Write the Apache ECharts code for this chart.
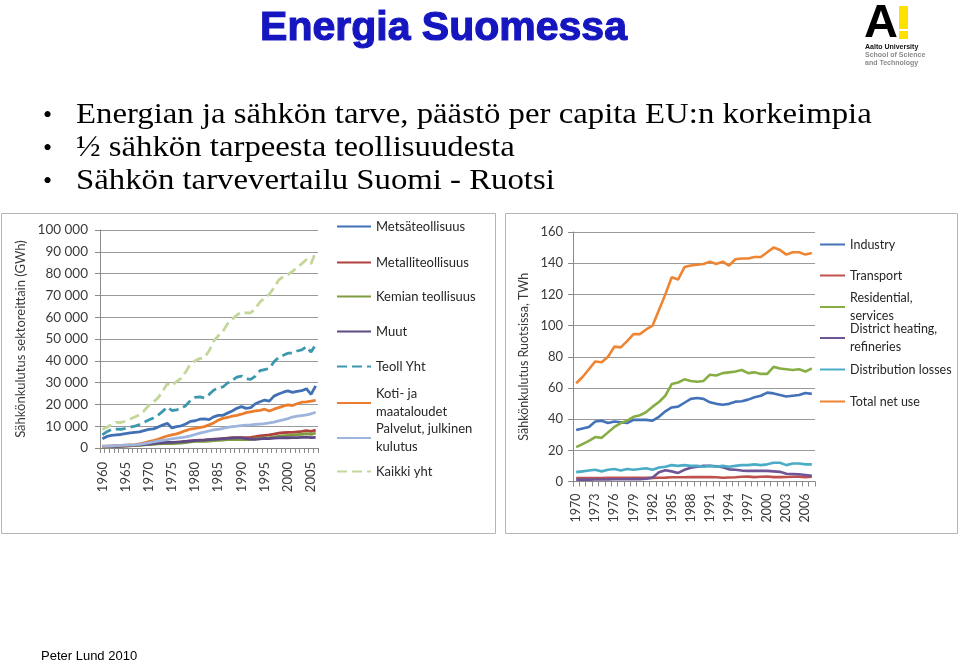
<!DOCTYPE html>
<html><head><meta charset="utf-8">
<script src="https://cdn.jsdelivr.net/npm/echarts@6/dist/echarts.min.js"></script>
<style>html,body{margin:0;padding:0;background:#fff}#c{width:960px;height:663px}</style>
</head><body><div id="c"></div>
<script>
// ---------- Finland (left chart), GWh ----------
const yearsFi = ['1960','1961','1962','1963','1964','1965','1966','1967','1968','1969',
  '1970','1971','1972','1973','1974','1975','1976','1977','1978','1979',
  '1980','1981','1982','1983','1984','1985','1986','1987','1988','1989',
  '1990','1991','1992','1993','1994','1995','1996','1997','1998','1999',
  '2000','2001','2002','2003','2004','2005','2006'];
const fiMetsa = [4200,5300,5800,6000,6200,6600,6900,7200,7400,8000,
  8500,8800,9600,10500,11300,9200,9800,10200,11000,12200,
  12500,13200,13400,13000,14300,15000,15000,16000,17000,18200,
  19000,18200,18500,20300,21200,22000,21500,23800,24800,25600,
  26200,25500,26000,26300,27200,24600,28500];
const fiMetalli = [500,600,700,800,900,1000,1100,1200,1400,1600,
  1800,2000,2200,2400,2500,2400,2600,2800,3000,3300,
  3500,3600,3600,3800,4100,4200,4300,4500,4700,4800,
  4800,4700,4900,5200,5600,5800,6000,6400,6800,7000,
  7200,7200,7400,7600,8000,7600,8200];
const fiKemia = [400,500,600,700,800,900,1000,1100,1200,1400,
  1600,1700,1900,2000,2100,2000,2100,2300,2500,2800,
  3000,3100,3000,3200,3400,3500,3600,3800,3900,4000,
  3900,3800,3900,4200,4500,4600,4700,5000,5400,5600,
  5800,5900,6100,6300,6600,6200,6900];
const fiMuut = [500,600,700,800,900,1000,1100,1200,1400,1600,
  1800,2000,2200,2400,2600,2600,2700,2800,3000,3200,
  3400,3500,3600,3800,4000,4100,4300,4400,4500,4600,
  4600,4300,4100,4000,4200,4400,4300,4500,4600,4700,
  4700,4800,4800,4900,5000,4800,4900];
const fiTeollYht = [6000,7500,8500,8700,8600,9000,9600,10000,10800,11800,
  12800,13800,15000,16800,18800,17200,17500,18000,19500,21800,
  23200,23500,23000,24500,26500,27500,28000,29800,31000,32500,
  33000,31800,31500,33000,35500,36000,36500,39500,41500,42500,
  43500,43500,44500,45000,46500,44000,47500];
const fiKoti = [800,900,1000,1100,1200,1300,1400,1500,1900,2400,
  2900,3400,4000,4800,5500,6000,6500,7200,8000,8700,
  9000,9400,9800,10600,11500,12800,13600,14000,14600,15000,
  15500,16200,16600,17000,17300,17800,17000,17800,18500,19200,
  19800,19500,20300,21000,21200,21500,21800];
const fiPalvelut = [800,900,1000,1100,1200,1300,1400,1500,1700,2000,
  2400,2800,3200,3500,3800,4200,4500,4800,5100,5600,
  6200,6800,7300,7800,8300,8600,9000,9500,9800,10000,
  10300,10500,10600,10800,11000,11200,11500,11900,12400,12900,
  13500,14200,14600,14900,15200,15700,16400];
const fiKaikki = [8500,9500,10800,11800,11700,12300,13300,14200,15200,17000,
  19500,21000,23000,26000,29500,28500,30500,32000,35000,38500,
  40000,41000,41500,44500,49000,51500,53500,57000,59000,61000,
  62300,62000,62000,64000,67000,68800,70500,73500,77000,78500,
  79500,81000,83000,84500,86500,84500,90000];
const fiNames = ['Metsäteollisuus','Metalliteollisuus','Kemian teollisuus','Muut','Teoll Yht',
  'Koti- ja maataloudet','Palvelut, julkinen kulutus','Kaikki yht'];
const fiYTicks = [0,10000,20000,30000,40000,50000,60000,70000,80000,90000,100000];

// ---------- Sweden (right chart), TWh ----------
const yearsSe = ['1970','1971','1972','1973','1974','1975','1976','1977','1978','1979',
  '1980','1981','1982','1983','1984','1985','1986','1987','1988','1989',
  '1990','1991','1992','1993','1994','1995','1996','1997','1998','1999',
  '2000','2001','2002','2003','2004','2005','2006','2007'];
const seIndustry = [33,34,35,38.5,39,37.5,38.5,38,37.5,39.5,
  39.5,39.5,39,41.5,45,47.5,48,50.5,53,53.5,
  53,50.8,49.8,49.2,49.8,51.2,51.5,52.5,54,55,
  57,56.5,55.5,54.5,55,55.5,56.8,56.2];
const seTransport = [2.2,2.2,2.2,2.2,2.2,2.3,2.3,2.3,2.3,2.3,
  2.3,2.3,2.3,2.4,2.5,2.7,2.7,2.7,2.8,2.8,
  2.8,2.8,2.7,2.4,2.6,2.7,3.0,3.1,2.8,3.0,
  3.2,2.8,2.8,2.9,3.0,3.0,2.8,3.0];
const seResidential = [22,24,26,28.5,28,31.5,35,37.5,39,41.5,
  42.5,44.5,48,51,55,62.5,63.5,65.5,64.5,64,
  64.5,68.5,68,69.5,70,70.5,71.5,69.5,70,69,
  69,73.5,72.5,72,71.5,72,70.5,72.5];
const seDistrict = [1.2,1.2,1.2,1.3,1.3,1.3,1.4,1.4,1.4,1.5,
  1.5,1.8,2.5,6,7.2,6.5,5.5,7.5,8.8,9.5,
  10,10,9.8,9.2,7.8,7.5,7,6.8,6.8,6.8,
  6.8,6.5,6.2,5,4.8,4.6,4.2,3.6];
const seLosses = [6,6.5,7,7.5,6.5,7.5,8,7,8,7.5,
  8,8.5,7.5,9,9.5,10.5,10,10.5,10,10,
  9.5,10,9.5,10,9.5,10,10.5,10.5,11,10.5,
  11,12,12,10.5,11.5,11.5,11,11];
const seTotal = [63,67,72,77,76.5,80,86.5,86,90,94.5,
  94.5,97.5,100,110,120,131,129.5,137.5,138.5,139,
  139.5,141,139.5,141,138.5,142.5,143,143,144,144,
  147,150,148.5,145.5,147,147,145.5,146.5];
const seNames = ['Industry','Transport','Residential, services','District heating, refineries',
  'Distribution losses','Total net use'];

// ---------- texts ----------
const titleText = 'Energia Suomessa';
const bullets = ['Energian ja sähkön tarve, päästö per capita EU:n korkeimpia',
  '½ sähkön tarpeesta teollisuudesta',
  'Sähkön tarvevertailu Suomi - Ruotsi'];
const footerText = 'Peter Lund 2010';

// ---------- styling / layout ----------
const FONT = 'Lato';
const LBL = '#3a3a3a';
const fiColors = ['#4170B5','#B0403D','#7E9D3F','#5F4A86','#3B98AE','#EA7D2E','#9DB4DC','#C4D79B'];
const fiDashed = [false,false,false,false,true,false,false,true];
const seColors = ['#4472B8','#C0504D','#86AE44','#6F5596','#4BACC6','#EE8533'];
const wrapMap = {
  'Koti- ja maataloudet':'Koti- ja\nmaataloudet',
  'Palvelut, julkinen kulutus':'Palvelut, julkinen\nkulutus',
  'Residential, services':'Residential,\nservices',
  'District heating, refineries':'District heating,\nrefineries'
};
const fiLegendY = [227,263,297,332,367,403,438,472];
const seLegendY = [245,276,307,338,370,402];

function fmtThousands(v){ return String(v).replace(/\B(?=(\d{3})+(?!\d))/g,' '); }

function makeLegend(name, cy, left, iw, fs){
  const wrapped = wrapMap[name];
  const lg = {
    data:[name], orient:'vertical', left:left, padding:0, itemGap:0,
    itemWidth:iw, itemHeight:14, selectedMode:false,
    itemStyle:{color:'rgba(0,0,0,0)', borderColor:'rgba(0,0,0,0)', borderWidth:0},
    formatter: n => wrapMap[n] || n,
    textStyle:{fontFamily:FONT, fontSize:fs, color:'#262626'}
  };
  if (wrapped){
    lg.textStyle.lineHeight = 18;
    lg.textStyle.padding = [18,0,0,0];
    lg.top = cy - 27;
  } else {
    lg.top = cy - 7;
  }
  return lg;
}

const legends = [];
fiNames.forEach((n,i)=>legends.push(makeLegend(n, fiLegendY[i], 336, 34, 13)));
seNames.forEach((n,i)=>legends.push(makeLegend(n, seLegendY[i], 819, 25, 12.5)));

const fiData = [fiMetsa,fiMetalli,fiKemia,fiMuut,fiTeollYht,fiKoti,fiPalvelut,fiKaikki];
const seData = [seIndustry,seTransport,seResidential,seDistrict,seLosses,seTotal];

const series = [];
fiNames.forEach((n,i)=>series.push({
  name:n, type:'line', xAxisIndex:0, yAxisIndex:0, data:fiData[i], symbol:'none',
  lineStyle:{color:fiColors[i], width:2.8, type: fiDashed[i] ? [10,5] : 'solid'},
  itemStyle:{color:fiColors[i]}
}));
seNames.forEach((n,i)=>series.push({
  name:n, type:'line', xAxisIndex:1, yAxisIndex:1, data:seData[i], symbol:'none',
  lineStyle:{color:seColors[i], width:2.6},
  itemStyle:{color:seColors[i]}
}));

const axisLineStyle = {lineStyle:{color:'#8a8a8a', width:1}};
const splitLineStyle = {show:true, lineStyle:{color:'#9a9a9a', width:1}};

function txt(x, y, text, st, extra){
  return Object.assign({type:'text', x:x, y:y, style:Object.assign({text:text,
    textAlign:'left', textVerticalAlign:'middle', align:'left', verticalAlign:'middle'}, st)}, extra || {});
}

const graphics = [
  {type:'rect', shape:{x:1.5,y:213.5,width:494,height:320}, style:{fill:'none',stroke:'#b4b4b4',lineWidth:1}, z:-1},
  {type:'rect', shape:{x:505.5,y:213.5,width:452,height:320}, style:{fill:'none',stroke:'#b4b4b4',lineWidth:1}, z:-1},
  txt(443.5, 29, titleText, {fontFamily:'Liberation Sans', fontWeight:'bold', fontSize:41, fill:'#1616C0',
     stroke:'#1616C0', lineWidth:1.2, textAlign:'center', align:'center'}),
  txt(41, 656, footerText, {fontFamily:'Liberation Sans', fontSize:13, fill:'#000'}),
  // logo
  txt(864, 24, 'A', {fontFamily:'Liberation Sans', fontWeight:'bold', fontSize:47, fill:'#000'}),
  {type:'rect', shape:{x:899, y:6, width:9, height:23}, style:{fill:'#FFE100'}},
  {type:'rect', shape:{x:899, y:31, width:9, height:8}, style:{fill:'#FFE100'}},
  txt(865, 47, 'Aalto University', {fontFamily:'Liberation Sans', fontWeight:'bold', fontSize:7, fill:'#111'}),
  txt(865, 55, 'School of Science', {fontFamily:'Liberation Sans', fontWeight:'bold', fontSize:7, fill:'#8a8a8a'}),
  txt(865, 63, 'and Technology', {fontFamily:'Liberation Sans', fontWeight:'bold', fontSize:7, fill:'#8a8a8a'})
];
bullets.forEach((b,i)=>{
  const y = 116 + i*33;
  graphics.push(txt(43, y, '•', {fontFamily:'Liberation Serif', fontSize:26, fill:'#000'}));
  graphics.push(txt(76, y, b, {fontFamily:'Liberation Serif', fontSize:28.5, fill:'#000'}, {scaleX:1.15, originX:0, originY:0}));
});

const option = {
  animation:false,
  backgroundColor:'#ffffff',
  textStyle:{fontFamily:FONT},
  graphic: graphics,
  legend: legends,
  grid:[
    {left:100, top:230, width:218, height:218},
    {left:573, top:232, width:242, height:249.5}
  ],
  xAxis:[
    {type:'category', gridIndex:0, data:yearsFi, boundaryGap:true,
     axisLine:axisLineStyle, axisTick:{show:true, interval:0, length:5, lineStyle:{color:'#8a8a8a'}},
     axisLabel:{interval:4, rotate:90, margin:14, fontFamily:FONT, fontSize:13, color:LBL}},
    {type:'category', gridIndex:1, data:yearsSe, boundaryGap:true,
     axisLine:axisLineStyle, axisTick:{show:true, interval:0, length:5, lineStyle:{color:'#8a8a8a'}},
     axisLabel:{interval:2, rotate:90, margin:12, fontFamily:FONT, fontSize:12.5, color:LBL}}
  ],
  yAxis:[
    {type:'value', gridIndex:0, min:fiYTicks[0], max:fiYTicks[fiYTicks.length-1], interval:fiYTicks[1]-fiYTicks[0],
     axisLine:{show:true, lineStyle:{color:'#8a8a8a'}}, axisTick:{show:true, length:5, lineStyle:{color:'#8a8a8a'}},
     splitLine:splitLineStyle,
     axisLabel:{formatter:fmtThousands, margin:12, fontFamily:FONT, fontSize:13.5, color:LBL},
     name:'Sähkönkulutus sektoreittain (GWh)', nameLocation:'middle', nameRotate:90, nameGap:73,
     nameTextStyle:{fontFamily:FONT, fontSize:13, color:LBL}},
    {type:'value', gridIndex:1, min:0, max:160, interval:20,
     axisLine:{show:true, lineStyle:{color:'#8a8a8a'}}, axisTick:{show:true, length:5, lineStyle:{color:'#8a8a8a'}},
     splitLine:splitLineStyle,
     axisLabel:{margin:10, fontFamily:FONT, fontSize:13, color:LBL},
     name:'Sähkönkulutus Ruotsissa, TWh', nameLocation:'middle', nameRotate:90, nameGap:43,
     nameTextStyle:{fontFamily:FONT, fontSize:12.5, color:LBL}}
  ],
  series: series
};
const chart = echarts.init(document.getElementById('c'));
chart.setOption(option);
</script>
</body></html>
